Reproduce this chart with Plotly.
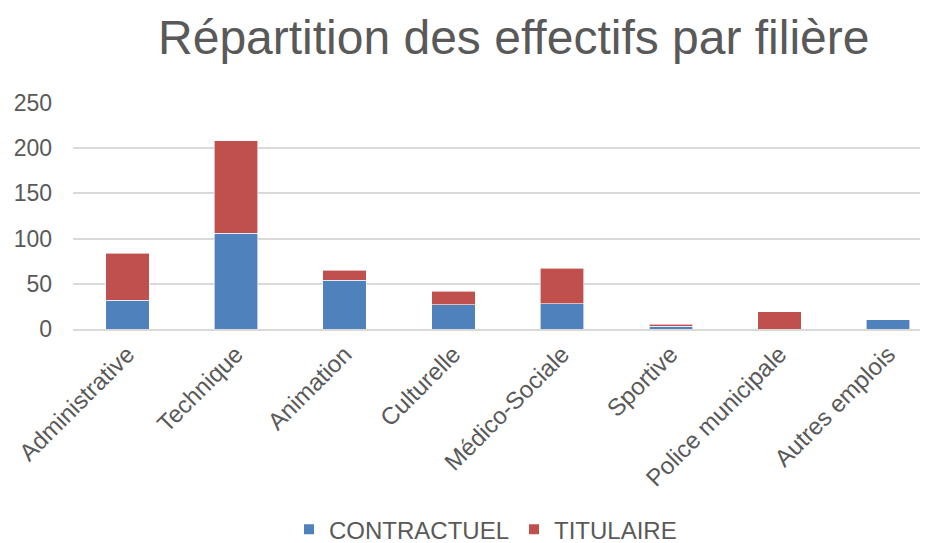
"""Stacked bar chart: staff split by job family (contractuel / titulaire)."""

import plotly.graph_objects as go

FILIERES = [
    "Administrative",
    "Technique",
    "Animation",
    "Culturelle",
    "Médico-Sociale",
    "Sportive",
    "Police municipale",
    "Autres emplois",
]
CONTRACTUEL = [32, 106, 54, 27, 28, 3, 0, 10]
TITULAIRE = [52, 102, 11, 15, 39, 2, 19, 0]
Y_TICKS = [0, 50, 100, 150, 200, 250]

BLUE = "#4F81BD"
RED = "#C0504D"
TEXT_COLOR = "#595959"
GRID_COLOR = "#D9D9D9"
FONT = "Liberation Sans, Arial, sans-serif"

fig = go.Figure()
fig.add_trace(go.Bar(
    x=FILIERES,
    y=CONTRACTUEL,
    name="CONTRACTUEL",
    marker={"color": BLUE, "line": {"color": "#FFFFFF", "width": 0.6}},
))
fig.add_trace(go.Bar(
    x=FILIERES,
    y=TITULAIRE,
    name="TITULAIRE",
    marker={"color": RED, "line": {"color": "#FFFFFF", "width": 0.6}},
))

fig.update_layout(
    barmode="stack",
    bargap=0.6,
    width=928,
    height=543,
    paper_bgcolor="#FFFFFF",
    plot_bgcolor="#FFFFFF",
    font={"family": FONT, "color": TEXT_COLOR},
    margin={"l": 65, "r": 0, "t": 95, "b": 222, "autoexpand": False},
    title={
        "text": "Répartition des effectifs par filière",
        "font": {"size": 48, "color": TEXT_COLOR, "family": FONT},
        "x": 0.545,
        "xanchor": "center",
        "xref": "container",
        "y": 0.947,
        "yanchor": "middle",
    },
    legend={
        "orientation": "h",
        "x": 0.478,
        "xanchor": "center",
        "y": -0.888,
        "yanchor": "middle",
        "font": {"size": 24, "color": TEXT_COLOR},
        "itemsizing": "constant",
        "traceorder": "normal",
        "entrywidth": 0,
    },
    showlegend=True,
)

fig.update_xaxes(
    range=[-0.5, 7.44],
    tickangle=-45,
    tickfont={"size": 24, "color": TEXT_COLOR},
    showgrid=False,
    showline=True,
    linecolor=GRID_COLOR,
    linewidth=1.5,
    ticks="",
    automargin=False,
)

fig.update_yaxes(
    range=[0, 250],
    tickvals=Y_TICKS,
    tickfont={"size": 23, "color": TEXT_COLOR},
    showgrid=True,
    gridcolor=GRID_COLOR,
    gridwidth=1.5,
    zeroline=False,
    ticks="",
    ticklabelstandoff=20,
    automargin=False,
)

fig.write_html("out.html")
